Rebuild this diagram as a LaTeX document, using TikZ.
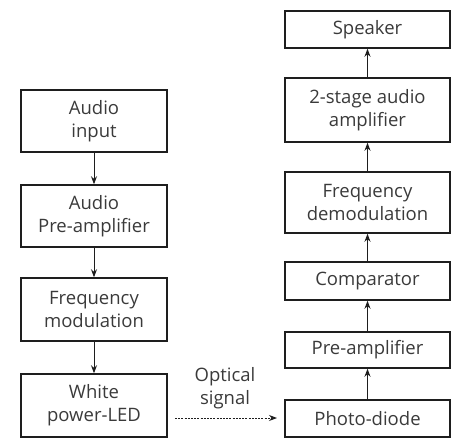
\documentclass[tikz,border=0pt]{standalone}
\usepackage{fontspec}
\setmainfont{Open Sans}
\usetikzlibrary{arrows.meta}
\definecolor{txt}{HTML}{3A3A3A}
\definecolor{ln}{HTML}{1E1E1E}
\tikzset{
  blk/.style={draw=ln, line width=1.5pt, inner sep=0pt, align=center, text=txt, font=\fontsize{18.5}{23}\selectfont},
  arr/.style={draw=ln, line width=1pt, -{Stealth[length=8pt,width=6pt]}},
}
\begin{document}
\begin{tikzpicture}[x=1pt,y=-1pt]
\useasboundingbox (0,0) rectangle (459,440);
% left column
\node[blk, minimum width=146pt, minimum height=62pt] (ain) at (94,121) {Audio\\input};
\node[blk, minimum width=146pt, minimum height=62pt] (apre) at (94,216) {Audio\\Pre-amplifier};
\node[blk, minimum width=146pt, minimum height=63pt] (fm) at (94,309.5) {Frequency\\modulation};
\node[blk, minimum width=146pt, minimum height=63pt] (led) at (94,405.5) {White\\power-LED};
% right column
\node[blk, minimum width=165pt, minimum height=37pt] (spk) at (367.5,29.5) {Speaker};
\node[blk, minimum width=165pt, minimum height=64pt] (amp2) at (367.5,110) {2-stage audio\\amplifier};
\node[blk, minimum width=165pt, minimum height=61pt] (fdm) at (367.5,202.5) {Frequency\\demodulation};
\node[blk, minimum width=165pt, minimum height=38pt] (cmp) at (367.5,281) {Comparator};
\node[blk, minimum width=165pt, minimum height=36pt] (pre) at (367.5,350) {Pre-amplifier};
\node[blk, minimum width=165pt, minimum height=37pt] (pd) at (367.5,418.5) {Photo-diode};
% left arrows
\draw[arr] (ain.south) -- (apre.north);
\draw[arr] (apre.south) -- (fm.north);
\draw[arr] (fm.south) -- (led.north);
% right arrows
\draw[arr] (pd.north) -- (pre.south);
\draw[arr] (pre.north) -- (cmp.south);
\draw[arr] (cmp.north) -- (fdm.south);
\draw[arr] (fdm.north) -- (amp2.south);
\draw[arr] (amp2.north) -- (spk.south);
% optical link
\coordinate (os) at (175,418);
\coordinate (oe) at (277,418);
\draw[arr, dash pattern=on 2pt off 1.2pt, line width=1pt] (os) -- (oe);
\node[text=txt, font=\fontsize{18.5}{23}\selectfont, align=center] (olab) at (225,388) {Optical\\signal};
\end{tikzpicture}
\end{document}
